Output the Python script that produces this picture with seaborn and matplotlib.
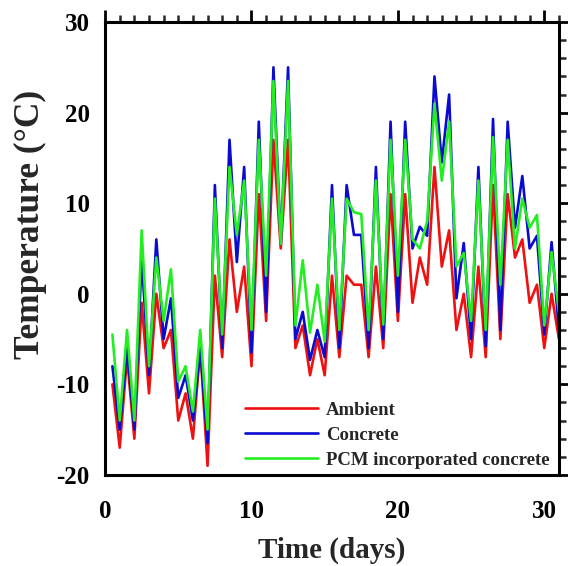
import numpy as np
import pandas as pd
import matplotlib
matplotlib.use("Agg")
import matplotlib.pyplot as plt
from matplotlib.ticker import MultipleLocator
import seaborn as sns

days = [0.5, 1.0, 1.5, 2.0, 2.5, 3.0, 3.5, 4.0, 4.5, 5.0, 5.5, 6.0, 6.5, 7.0, 7.5, 8.0,
        8.5, 9.0, 9.5, 10.0, 10.5, 11.0, 11.5, 12.0, 12.5, 13.0, 13.5, 14.0, 14.5, 15.0,
        15.5, 16.0, 16.5, 17.0, 17.5, 18.0, 18.5, 19.0, 19.5, 20.0, 20.5, 21.0, 21.5,
        22.0, 22.5, 23.0, 23.5, 24.0, 24.5, 25.0, 25.5, 26.0, 26.5, 27.0, 27.5, 28.0,
        28.5, 29.0, 29.5, 30.0, 30.5, 31.0]

ambient = [-10, -17, -7, -16, -1, -11, 0, -6, -4, -14, -11, -16, -6, -19, 2, -7,
           6, -2, 3, -8, 11, -3, 17, 5, 17, -6, -3.5, -9, -5, -9,
           2, -7, 2, 1, 1, -7, 3, -6, 11, -3, 11, -1, 4,
           1, 14, 3, 7, -4, 0, -7, 3, -7, 12, -5, 11, 4,
           6, -1, 1, -6, 0, -5]

concrete = [-8, -15, -6, -15, 4, -9, 6, -5, -0.5, -11.5, -9, -14, -6, -16.5, 12, -6,
            17, 3.5, 14, -6.5, 19, -2, 25, 5.5, 25, -5, -2, -7.3, -4, -7,
            12, -6, 12, 6.5, 6.5, -6, 14, -5, 19, -2, 19, 5, 7.4,
            6.4, 24, 14.5, 22, -0.5, 5.6, -5, 14, -5.8, 19.3, -4, 19, 7.3,
            13, 5, 6.4, -4.5, 5.7, -4]

pcm = [-4.5, -14, -4, -14, 7, -8, 4, -3, 2.7, -9.7, -8, -13, -4, -15, 10.5, -4.5,
       14, 6.5, 12.5, -4, 17, 2, 23.5, 5.5, 23.5, -3.5, 3.7, -4.3, 1, -5.3,
       10.5, -4, 10.5, 9, 8.8, -4, 12.5, -3.4, 17, 2, 17, 6, 5,
       8, 21, 12.5, 19, 3, 4.5, -3, 12.5, -4, 17.3, 1, 17, 5,
       10.5, 7.3, 8.7, -3.5, 4.6, -2]

series_names = ["Ambient", "Concrete", "PCM incorporated concrete"]
colors = ["#ee1111", "#0a0ad0", "#22ee22"]

df = pd.DataFrame({
    "Time": days * 3,
    "Temperature": ambient + concrete + pcm,
    "Series": [series_names[0]] * len(days) + [series_names[1]] * len(days) + [series_names[2]] * len(days),
})

sns.set_style("white")
plt.rcParams["font.family"] = ["Liberation Serif", "DejaVu Serif"]
plt.rcParams["font.weight"] = "bold"
plt.rcParams["axes.unicode_minus"] = False

fig = plt.figure(figsize=(5.68, 5.66), dpi=100)
ax = fig.add_axes([0.185, 0.161, 0.799, 0.800])

sns.lineplot(data=df, x="Time", y="Temperature", hue="Series", hue_order=series_names,
             palette=colors, linewidth=1.9, ax=ax, sort=False, estimator=None)

ax.set_xlim(0, 31)
ax.set_ylim(-20, 30)
ax.xaxis.set_major_locator(MultipleLocator(10))
ax.xaxis.set_minor_locator(MultipleLocator(1))
ax.yaxis.set_major_locator(MultipleLocator(10))
ax.yaxis.set_minor_locator(MultipleLocator(2))

for s in ax.spines.values():
    s.set_visible(True)
    s.set_linewidth(2.2)
    s.set_color("black")

ax.tick_params(which="major", direction="out", length=9, width=2.0,
               top=True, right=True, labelsize=18, colors="black")
ax.tick_params(axis="x", which="major", pad=9)
ax.tick_params(axis="y", which="major", pad=2)
ax.tick_params(which="minor", direction="out", length=5, width=1.8,
               top=True, right=True)
for lab in ax.get_xticklabels() + ax.get_yticklabels():
    lab.set_fontweight("bold")

ax.set_xlabel("Time (days)", fontsize=21, fontweight="bold")
ax.set_ylabel("Temperature (°C)", fontsize=25.5, fontweight="bold")
ax.xaxis.set_label_coords(0.5, -0.166)
ax.xaxis.label.set_verticalalignment("center")
ax.yaxis.set_label_coords(-0.165, 0.552)
ax.yaxis.label.set_verticalalignment("center")

leg = ax.legend(loc="center left", bbox_to_anchor=(0.3085, 0.088), frameon=False,
                prop={"weight": "bold", "size": 13.5, "family": "Liberation Serif"},
                handlelength=3.9, handletextpad=0.4, labelspacing=0.42,
                borderpad=0, borderaxespad=0)
for line in leg.get_lines():
    line.set_linewidth(1.9)

fig.savefig("out.png", dpi=100)
